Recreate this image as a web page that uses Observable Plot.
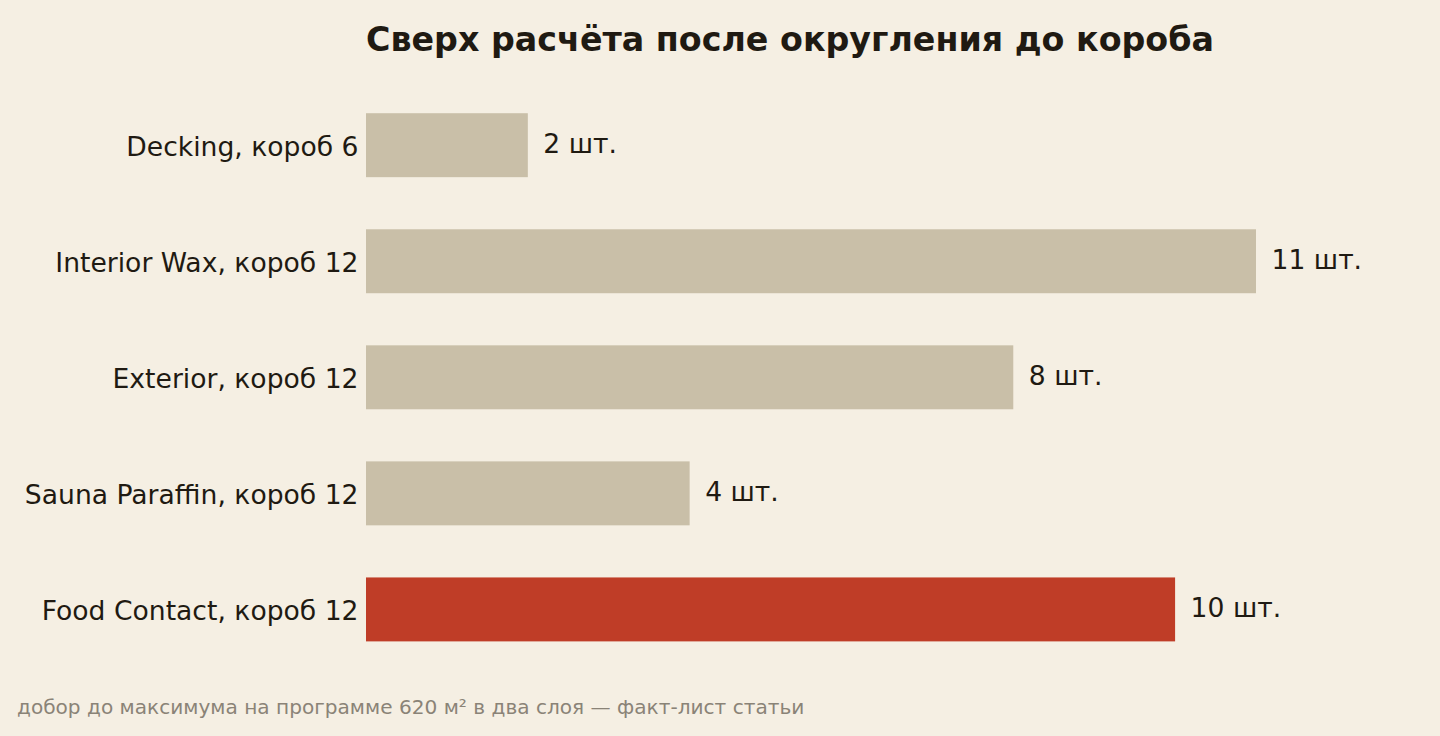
<!DOCTYPE html>
<html>
<head>
<meta charset="utf-8">
<script src="https://cdn.jsdelivr.net/npm/d3@7"></script>
<script src="https://cdn.jsdelivr.net/npm/@observablehq/plot@0.6"></script>
<style>
  html, body { margin: 0; padding: 0; background: #f5efe3; }
  body { width: 1440px; height: 736px; position: relative; overflow: hidden; font-family: "DejaVu Sans", sans-serif; }
  #title { position: absolute; left: 366px; top: 20px; margin: 0; font-size: 33.3px; font-weight: bold; color: #1f1a12; white-space: nowrap; }
  #chart { position: absolute; left: 0; top: 80px; }
  #caption { position: absolute; left: 17px; top: 695px; margin: 0; font-size: 20.1px; color: #8a8377; white-space: nowrap; }
</style>
</head>
<body>
<h1 id="title">Сверх расчёта после округления до короба</h1>
<div id="chart"></div>
<p id="caption">добор до максимума на программе 620 м² в два слоя — факт-лист статьи</p>
<script>
const categories = ["Decking, короб 6", "Interior Wax, короб 12", "Exterior, короб 12", "Sauna Paraffin, короб 12", "Food Contact, короб 12"];
const values = [2, 11, 8, 4, 10];
const highlight = [false, false, false, false, true];
const unitLabel = "шт.";

const data = categories.map((c, i) => ({category: c, value: values[i], hl: highlight[i]}));

const plot = Plot.plot({
  width: 1440,
  height: 600,
  marginLeft: 366,
  marginRight: 184,
  marginTop: 10,
  marginBottom: 15.4,
  style: { background: "transparent", fontFamily: "DejaVu Sans, sans-serif", color: "#1f1a12" },
  x: { domain: [0, 11], axis: null },
  y: { domain: categories, paddingInner: 0.449, paddingOuter: 0.2, round: false, label: null },
  color: { domain: [false, true], range: ["#c9bfa8", "#bf3d27"] },
  marks: [
    Plot.barX(data, { y: "category", x: "value", fill: "hl" }),
    Plot.text(data, { y: "category", x: "value", text: d => `${d.value} ${unitLabel}`, textAnchor: "start", dx: 15, dy: -1, fontSize: 26.6, fill: "#1f1a12" }),
    Plot.axisY({ tickSize: 0, tickPadding: 8, dy: 2, fontSize: 26.6, label: null, fill: "#1f1a12" })
  ]
});
document.getElementById("chart").appendChild(plot);
</script>
</body>
</html>
